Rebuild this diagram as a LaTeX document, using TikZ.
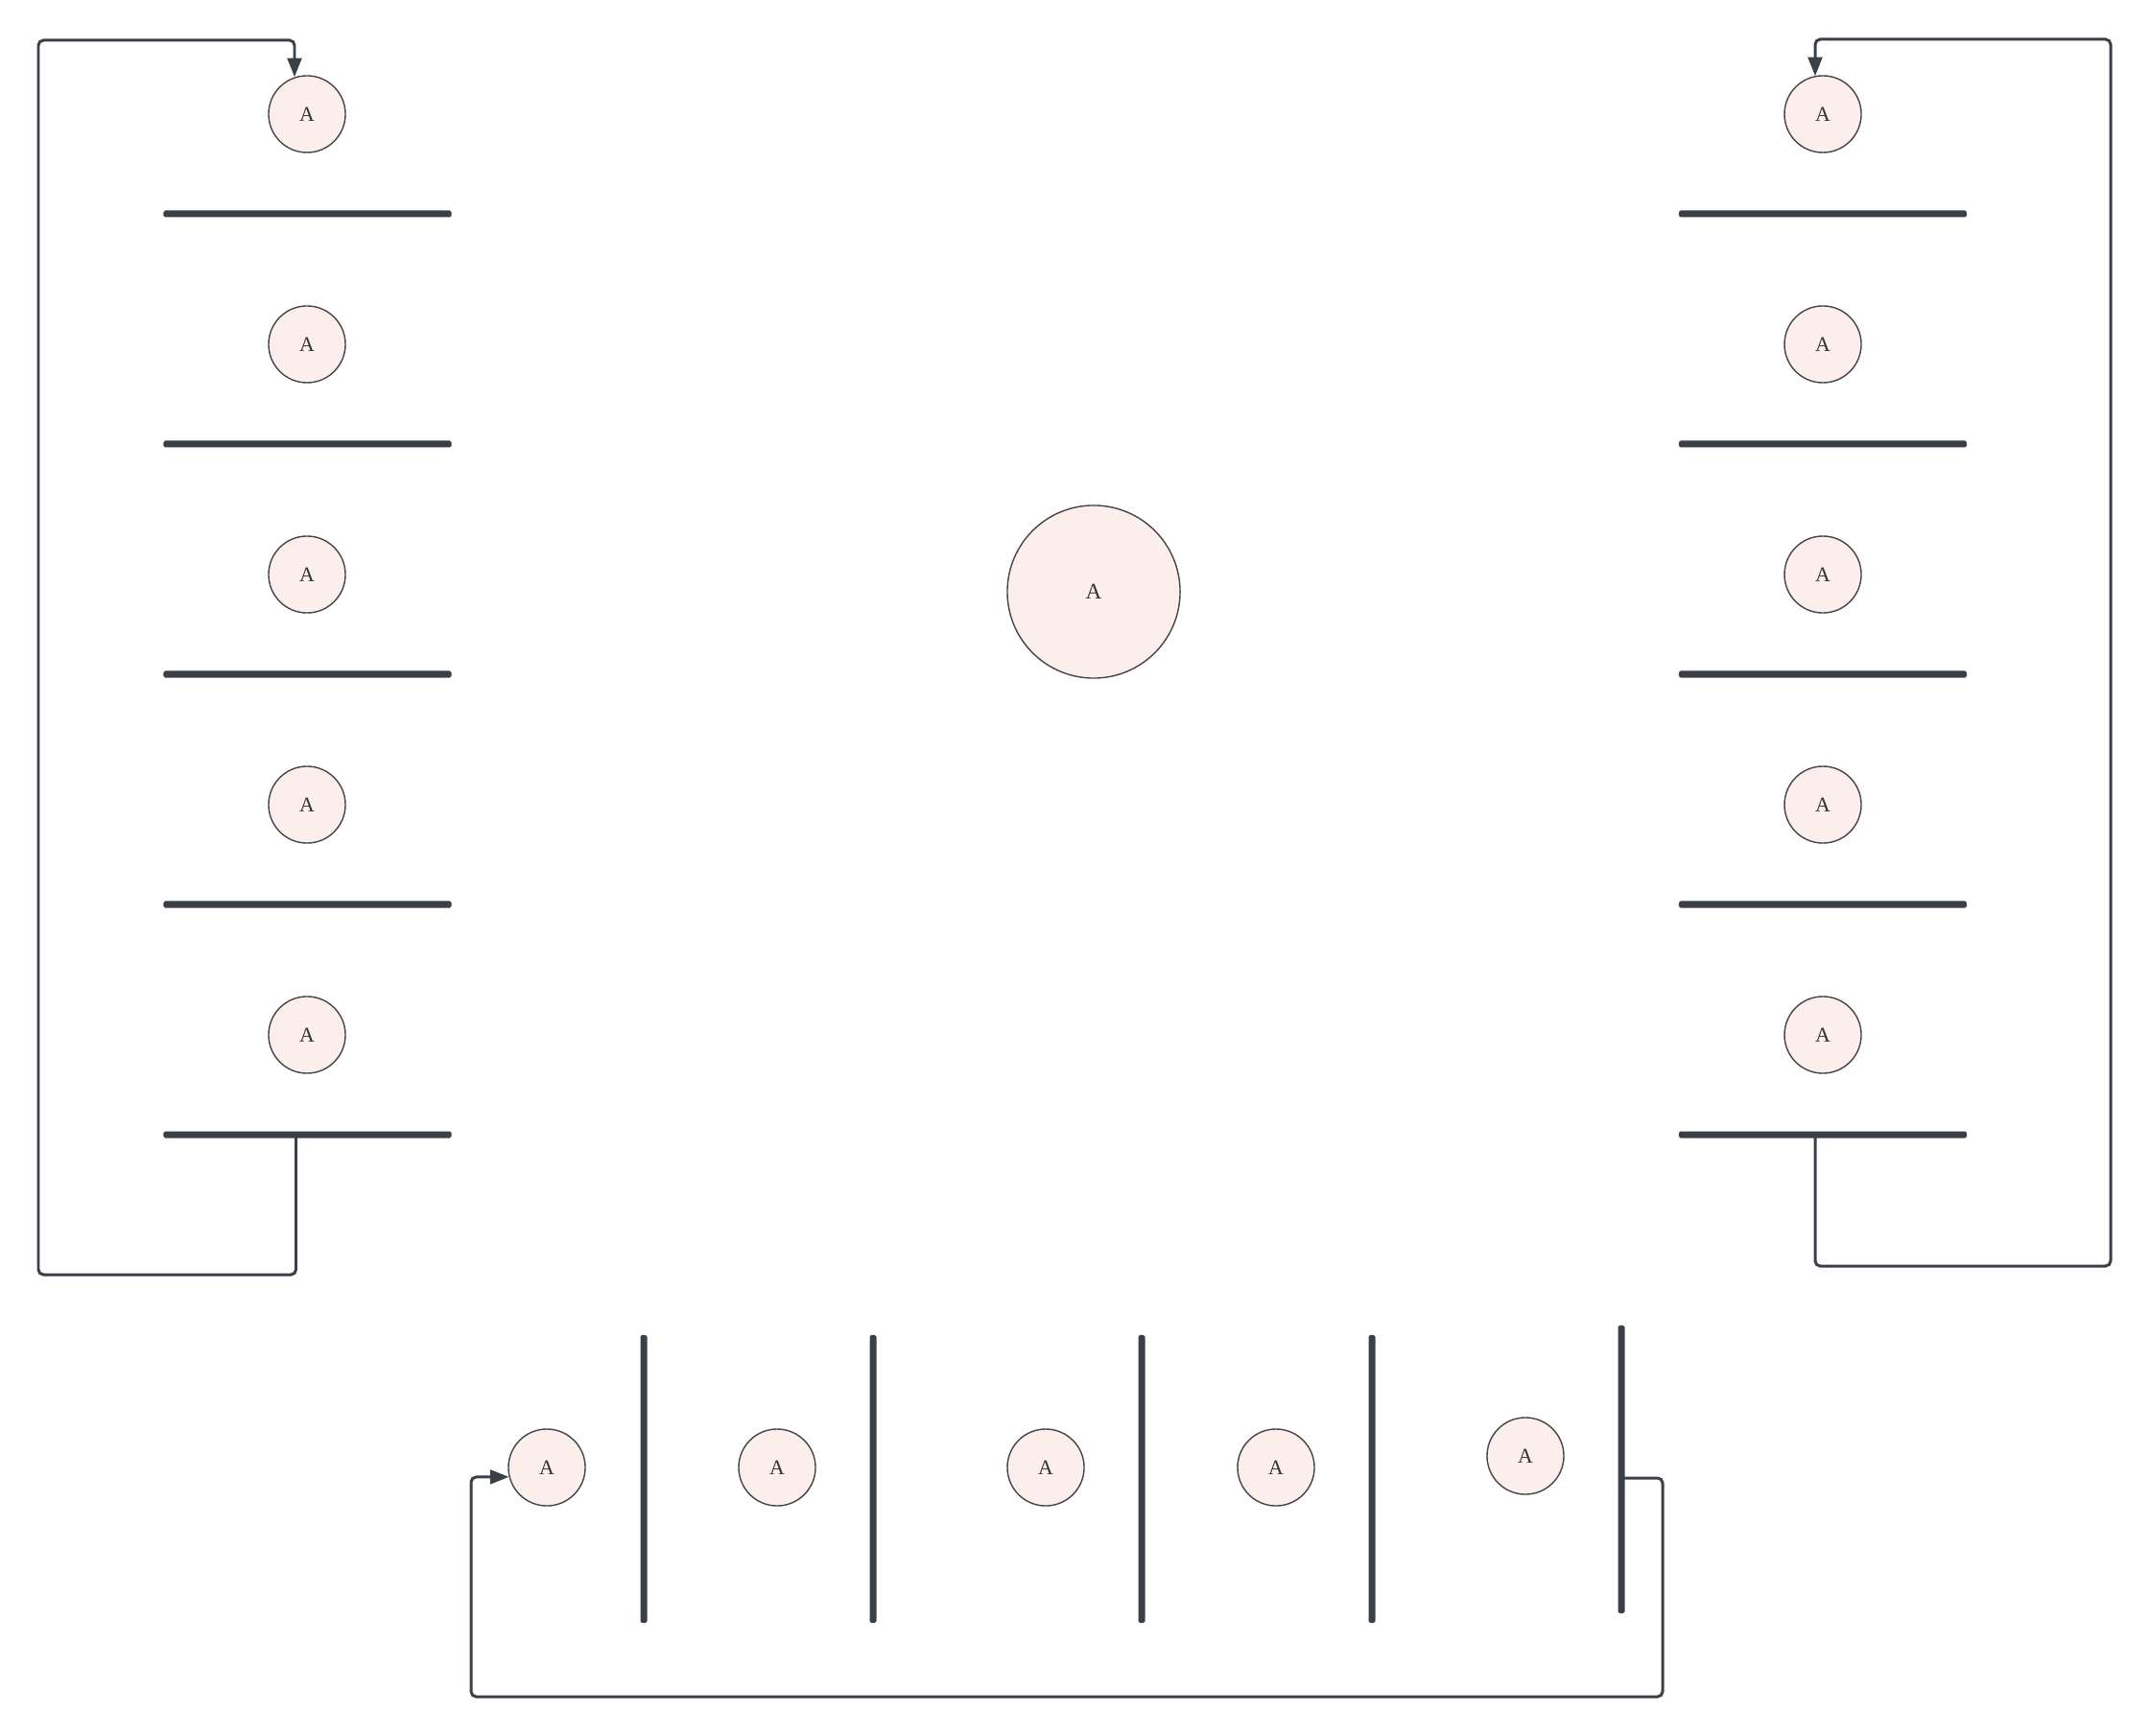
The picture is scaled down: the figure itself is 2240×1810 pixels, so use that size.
\documentclass[tikz,border=0pt]{standalone}
\usepackage{fontspec}
\setmainfont{Liberation Serif}
\usetikzlibrary{calc,arrows.meta}
\definecolor{linec}{HTML}{3A4047}
\definecolor{circfill}{HTML}{FBEEEB}
\definecolor{circdraw}{HTML}{45454A}
\definecolor{txtc}{HTML}{333333}
\tikzset{
  circ/.style={circle, draw=circdraw, line width=0.4pt, fill=circfill, minimum size=0.8cm, inner sep=0pt, text=txtc, font=\fontsize{6.2}{7}\selectfont},
  bigcirc/.style={circ, minimum size=1.8cm, font=\fontsize{6.6}{7}\selectfont},
  hbar/.style={rectangle, fill=linec, inner sep=0pt, minimum width=3.0cm, minimum height=0.07cm, rounded corners=0.5pt},
  vbar/.style={rectangle, fill=linec, inner sep=0pt, minimum width=0.07cm, minimum height=3.0cm, rounded corners=0.5pt},
  conn/.style={draw=linec, line width=0.85pt, rounded corners=1.5pt, -{Triangle[length=5.6pt,width=4.2pt]}},
}
\begin{document}
\begin{tikzpicture}[x=0.01cm,y=-0.01cm]
\useasboundingbox (0,0) rectangle (2240,1810);
% side columns
\foreach \i/\y in {1/119,2/359,3/599,4/839,5/1079}{
  \node[circ] (cL\i) at (320,\y) {A};
  \node[circ] (cR\i) at (1900,\y) {A};
}
\foreach \i/\y in {1/223,2/463,3/703,4/943,5/1183}{
  \node[hbar] (barL\i) at (320.5,\y) {};
  \node[hbar] (barR\i) at (1900,\y) {};
}
% centre
\node[bigcirc] (cC) at (1140,617) {A};
% bottom row
\node[circ] (cB1) at (570,1530) {A};
\node[circ] (cB2) at (810,1530) {A};
\node[circ] (cB3) at (1090,1530) {A};
\node[circ] (cB4) at (1330,1530) {A};
\node[circ] (cB5) at (1590,1518) {A};
\node[vbar] (barB1) at (671,1542) {};
\node[vbar] (barB2) at (910,1542) {};
\node[vbar] (barB3) at (1190,1542) {};
\node[vbar] (barB4) at (1430,1542) {};
\node[vbar] (barB5) at (1690,1532) {};
% connectors
\draw[conn] ($(barL5.center)+(-12,0)$) -- ++(0,146) -| (40,42) -| ($(cL1.north)+(-13,2)$);
\draw[conn] ($(barR5.center)+(-8,0)$) -- ++(0,137) -| (2200,41) -| ($(cR1.north)+(-8,1)$);
\draw[conn] ($(barB5.center)+(0,9)$) -| (1733,1769) -| (491,1540) -- (cB1.194);
\end{tikzpicture}
\end{document}
